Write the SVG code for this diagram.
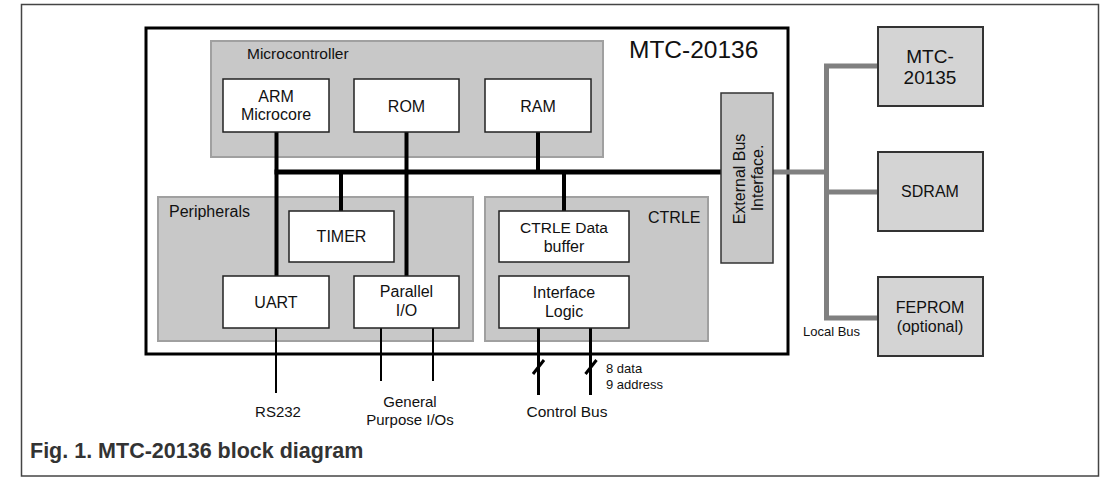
<svg xmlns="http://www.w3.org/2000/svg" width="1106" height="484" viewBox="0 0 1106 484">
<style>
text{font-family:"Liberation Sans",Arial,sans-serif;fill:#111;}
.c{text-anchor:middle;font-size:16px;}
.grp{fill:#c8c8c8;stroke:#a0a0a0;stroke-width:2;}
.wb{fill:#fff;stroke:#222;stroke-width:1.5;}
.ext{fill:#d4d4d4;stroke:#333;stroke-width:2;}
.bus{stroke:#000;fill:none;}
.lb{stroke:#808080;stroke-width:5;fill:none;}
</style>
<rect x="0" y="0" width="1106" height="484" fill="#fff"/>
<rect x="21.5" y="4.5" width="1077" height="471.5" fill="#fff" stroke="#444" stroke-width="1.5"/>
<g id="chip">
<rect x="146" y="28" width="642" height="326" fill="#fff" stroke="#000" stroke-width="3"/>
<text x="629" y="58" style="font-size:24.5px">MTC-20136</text>
</g>
<g id="microcontroller">
<rect class="grp" x="211" y="41" width="392" height="116"/>
<text x="247" y="59" style="font-size:15.5px">Microcontroller</text>
</g>
<g id="peripherals">
<rect class="grp" x="158" y="197" width="315" height="144"/>
<text x="169" y="217" style="font-size:16px">Peripherals</text>
</g>
<g id="ctrle">
<rect class="grp" x="485" y="197" width="223" height="144"/>
<text x="648" y="223" style="font-size:16px">CTRLE</text>
</g>
<g id="connectors">
<path class="bus" stroke-width="5" d="M274.5 172H721"/>
<path class="bus" stroke-width="4" d="M276.5 132V276M406.5 132V276M538 132V172M341 172V211M564 172V211"/>
<path class="bus" stroke-width="2" d="M276 328V393M381 328V381M433 328V381"/>
<path class="bus" stroke-width="3" d="M538.5 328V395M590.5 328V395M533 374L544 360M585.5 374L596.5 360"/>
<path class="lb" d="M773 172H826.5M878 66H826.5V318H878M826.5 192H878"/>
</g>
<g id="arm"><rect class="wb" x="223" y="79" width="106" height="53"/>
<text class="c" x="276" y="102">ARM</text><text class="c" x="276" y="120">Microcore</text></g>
<g id="rom"><rect class="wb" x="354" y="79" width="105" height="53"/>
<text class="c" x="406.5" y="112">ROM</text></g>
<g id="ram"><rect class="wb" x="485" y="79" width="106" height="53"/>
<text class="c" x="538" y="112">RAM</text></g>
<g id="timer"><rect class="wb" x="289" y="211" width="105" height="51"/>
<text class="c" x="341.5" y="242">TIMER</text></g>
<g id="uart"><rect class="wb" x="223" y="276" width="106" height="52"/>
<text class="c" x="276" y="308">UART</text></g>
<g id="parallel-io"><rect class="wb" x="354" y="276" width="105" height="52"/>
<text class="c" x="406.5" y="297">Parallel</text><text class="c" x="406.5" y="316">I/O</text></g>
<g id="ctrle-buffer"><rect class="wb" x="499" y="211" width="130" height="51"/>
<text class="c" x="564" y="233" style="font-size:15.5px">CTRLE Data</text><text class="c" x="564" y="252">buffer</text></g>
<g id="interface-logic"><rect class="wb" x="499" y="276" width="130" height="52"/>
<text class="c" x="564" y="298">Interface</text><text class="c" x="564" y="317">Logic</text></g>
<g id="ebi"><rect x="721" y="93" width="52" height="170" fill="#c8c8c8" stroke="#333" stroke-width="1.5"/>
<text class="c" transform="translate(745 179) rotate(-90)" x="0" y="0">External Bus</text>
<text class="c" transform="translate(763 178) rotate(-90)" x="0" y="0">Interface.</text></g>
<g id="mtc20135"><rect class="ext" x="878" y="27" width="105" height="79"/>
<text class="c" x="930" y="63" style="font-size:19px">MTC-</text><text class="c" x="930" y="84" style="font-size:19px">20135</text></g>
<g id="sdram"><rect class="ext" x="878" y="152" width="105" height="79"/>
<text class="c" x="930" y="197">SDRAM</text></g>
<g id="feprom"><rect class="ext" x="878" y="277" width="105" height="79"/>
<text class="c" x="930" y="313">FEPROM</text><text class="c" x="930" y="332">(optional)</text></g>
<text x="803" y="336" style="font-size:13px">Local Bus</text>
<text x="606" y="373" style="font-size:13px">8 data</text>
<text x="606" y="389" style="font-size:13px">9 address</text>
<text class="c" x="278" y="417" style="font-size:15px">RS232</text>
<text class="c" x="410" y="407" style="font-size:15px">General</text>
<text class="c" x="410" y="425" style="font-size:15px">Purpose I/Os</text>
<text class="c" x="567" y="417" style="font-size:15.5px">Control Bus</text>
<text x="30" y="458" style="font-size:21.5px;font-weight:bold;fill:#333">Fig. 1. MTC-20136 block diagram</text>
</svg>
